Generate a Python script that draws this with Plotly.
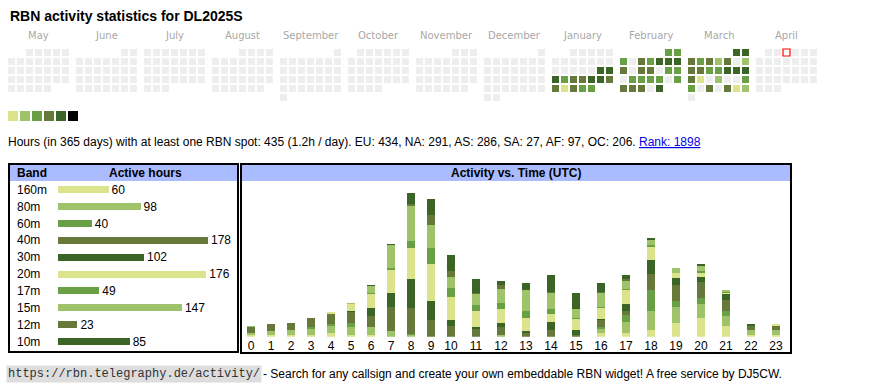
import datetime as dt
import plotly.graph_objects as go

# ---------------- data ----------------
callsign = "DL2025S"
month_names = ["May", "June", "July", "August", "September", "October",
               "November", "December", "January", "February", "March", "April"]
month_years = [2024, 2024, 2024, 2024, 2024, 2024, 2024, 2024, 2025, 2025, 2025, 2025]
month_numbers = [5, 6, 7, 8, 9, 10, 11, 12, 1, 2, 3, 4]
today = "2025-04-03"

active_days = [
    "2025-01-18", "2025-01-19", "2025-01-20", "2025-01-21", "2025-01-22", "2025-01-23",
    "2025-01-24", "2025-01-25", "2025-01-26", "2025-01-27", "2025-01-28", "2025-01-29",
    "2025-01-30", "2025-01-31",
    "2025-02-01", "2025-02-02", "2025-02-03", "2025-02-05", "2025-02-06", "2025-02-07",
    "2025-02-08", "2025-02-09", "2025-02-10", "2025-02-12", "2025-02-13", "2025-02-15",
    "2025-02-16", "2025-02-18", "2025-02-19", "2025-02-20", "2025-02-21", "2025-02-23",
    "2025-02-24", "2025-02-25", "2025-02-26", "2025-02-28",
    "2025-03-01", "2025-03-02", "2025-03-03", "2025-03-04", "2025-03-05", "2025-03-06",
    "2025-03-07", "2025-03-09", "2025-03-10", "2025-03-11", "2025-03-12", "2025-03-13",
    "2025-03-14", "2025-03-15", "2025-03-16", "2025-03-17", "2025-03-18", "2025-03-20",
    "2025-03-23", "2025-03-24", "2025-03-26", "2025-03-28", "2025-03-29", "2025-03-30",
]
active_levels = [
    5, 5, 5, 3, 4, 4,
    5, 5, 4, 4, 1, 4,
    3, 3,
    3, 3, 3, 4, 3, 5,
    5, 5, 4, 4, 4, 3,
    3, 3, 3, 3, 3, 3,
    4, 4, 4, 5,
    5, 5, 4, 3, 4, 2,
    4, 2, 4, 4, 3, 3,
    5, 5, 5, 4, 1, 2,
    3, 3, 4, 4, 1, 2,
]
level_colors = ["#eeeeee", "#dbe38b", "#9ec36b", "#6aa045", "#66793a", "#3a6526", "#000000"]

stats_hours = 435
stats_per_day = "1.2h / day"
continents = ["EU", "NA", "AS", "SA", "AF", "OC"]
continent_hours = [434, 291, 286, 27, 97, 206]
rank = 1898

bands = ["160m", "80m", "60m", "40m", "30m", "20m", "17m", "15m", "12m", "10m"]
band_hours = [60, 98, 40, 178, 102, 176, 49, 147, 23, 85]
band_colors = ["#dbe38b", "#9ec36b", "#6aa045", "#66793a", "#3a6526",
               "#dbe38b", "#6aa045", "#9ec36b", "#66793a", "#3a6526"]

hour_labels = [str(h) for h in range(24)]
h160 = [1, 1, 1, 1, 3, 1, 1, 0, 0, 0, 0, 0, 0, 0, 0, 0, 3, 3, 5, 10, 14, 8, 1, 1]
h80 = [2, 3, 4, 5, 5, 6, 6, 4, 1, 0, 0, 0, 1, 0, 0, 0, 3, 8, 14, 12, 10, 7, 4, 4]
h60 = [0, 0, 0, 1, 1, 3, 0, 0, 1, 0, 0, 0, 0, 0, 0, 0, 1, 5, 15, 4, 4, 4, 0, 0]
h40 = [4, 5, 5, 7, 8, 8, 8, 18, 19, 12, 8, 6, 6, 3, 5, 1, 5, 3, 12, 12, 12, 8, 3, 3]
h30 = [0, 0, 0, 0, 0, 1, 6, 10, 21, 14, 4, 1, 3, 1, 6, 4, 1, 5, 10, 5, 4, 4, 1, 0]
h20 = [0, 0, 0, 0, 1, 5, 10, 17, 23, 27, 17, 12, 10, 10, 6, 8, 8, 10, 10, 4, 3, 1, 0, 1]
h17 = [0, 0, 0, 0, 0, 0, 1, 1, 5, 12, 7, 4, 5, 5, 3, 1, 1, 1, 1, 0, 1, 1, 0, 0]
h15 = [1, 0, 0, 0, 0, 1, 5, 17, 26, 17, 8, 8, 10, 15, 12, 6, 10, 6, 4, 3, 4, 1, 0, 0]
h12 = [0, 0, 0, 0, 0, 0, 0, 0, 1, 7, 4, 1, 3, 0, 1, 0, 1, 1, 0, 0, 0, 0, 0, 0]
h10 = [0, 0, 0, 0, 0, 0, 1, 1, 8, 12, 12, 10, 3, 5, 12, 12, 6, 3, 1, 0, 1, 0, 0, 0]
hourly = [h160, h80, h60, h40, h30, h20, h17, h15, h12, h10]

# ---------------- layout constants ----------------
W, H = 870, 390
SANS = "Liberation Sans, Arial, sans-serif"
MONO = "Liberation Mono, Courier New, monospace"
CAL_X0, CAL_Y0, BLOCK, PITCH, CELL = 8, 49, 68, 9, 7


def py(px):
    return 1 - px / H


fig = go.Figure()

# ---------------- calendar ----------------
level_of = dict(zip(active_days, active_levels))
cx, cy, cc = [], [], []
tx = ty = None
for mi, (yr, mo) in enumerate(zip(month_years, month_numbers)):
    first = dt.date(yr, mo, 1)
    nxt = dt.date(yr + (mo == 12), mo % 12 + 1, 1)
    d = first
    while d < nxt:
        row = (d.day - 1 + first.weekday()) // 7
        x = CAL_X0 + mi * BLOCK + d.weekday() * PITCH + CELL / 2
        y = CAL_Y0 + row * PITCH + CELL / 2
        cx.append(x)
        cy.append(y)
        cc.append(level_colors[level_of.get(d.isoformat(), 0)])
        if d.isoformat() == today:
            tx, ty = x, y
        d += dt.timedelta(days=1)

fig.add_trace(go.Scatter(x=cx, y=cy, mode="markers", xaxis="x", yaxis="y",
                         marker=dict(symbol="square", size=CELL, color=cc, line=dict(width=0)),
                         hoverinfo="skip", showlegend=False))
fig.add_trace(go.Scatter(x=[tx], y=[ty], mode="markers", xaxis="x", yaxis="y",
                         marker=dict(symbol="square", size=7, color="#ffffff",
                                     line=dict(width=1.2, color="#ff0000")),
                         hoverinfo="skip", showlegend=False))

# legend squares
lvls = list(range(1, len(level_colors)))
fig.add_trace(go.Scatter(x=[8 + (l - 1) * 12 + 5 for l in lvls], y=[116] * len(lvls),
                         mode="markers", xaxis="x", yaxis="y",
                         marker=dict(symbol="square", size=10, color=level_colors[1:], line=dict(width=0)),
                         hoverinfo="skip", showlegend=False))

annotations = []
for mi, name in enumerate(month_names):
    annotations.append(dict(x=CAL_X0 + mi * BLOCK + 30.5, y=35, xref="x", yref="y", text=name,
                            showarrow=False, xanchor="center", yanchor="middle",
                            font=dict(family="DejaVu Sans", size=10, color="#a8a8a8")))

annotations.append(dict(x=8, y=16, xref="x", yref="y", text="<b>RBN activity statistics for %s</b>" % callsign,
                        showarrow=False, xanchor="left", yanchor="middle",
                        font=dict(family=SANS, size=14, color="#000")))

cont_txt = ", ".join("%s: %d" % (c, v) for c, v in zip(continents, continent_hours))
stats = ("Hours (in 365 days) with at least one RBN spot: %d (%s). %s. "
         "<span style='color:#0000ee;text-decoration:underline'>Rank: %d</span>"
         % (stats_hours, stats_per_day, cont_txt, rank))
annotations.append(dict(x=6, y=142, xref="x", yref="y", text=stats, showarrow=False,
                        xanchor="left", yanchor="middle", font=dict(family=SANS, size=12, color="#000")))

# ---------------- band table ----------------
fig.add_trace(go.Bar(x=band_hours, y=bands, orientation="h", xaxis="x2", yaxis="y2",
                     marker=dict(color=band_colors, line=dict(width=0)), width=0.41,
                     text=[str(v) for v in band_hours], textposition="outside",
                     constraintext="none", cliponaxis=False,
                     textfont=dict(family=SANS, size=12, color="#000"),
                     hoverinfo="skip", showlegend=False))
for b in bands:
    annotations.append(dict(x=15 / W, y=b, xref="paper", yref="y2", text=b, showarrow=False,
                            xanchor="left", yanchor="middle", font=dict(family=SANS, size=12, color="#000")))
annotations.append(dict(x=15, y=173, xref="x", yref="y", text="<b>Band</b>", showarrow=False,
                        xanchor="left", yanchor="middle", font=dict(family=SANS, size=12, color="#000")))
annotations.append(dict(x=145, y=173, xref="x", yref="y", text="<b>Active hours</b>", showarrow=False,
                        xanchor="center", yanchor="middle", font=dict(family=SANS, size=12, color="#000")))

# ---------------- activity vs time ----------------
hour_x = []
pos = 0
for i, lab in enumerate(hour_labels):
    if i > 0:
        pos += 20 if len(hour_labels[i - 1]) == 1 else 25
    hour_x.append(pos)

for b, vals, col in zip(bands, hourly, band_colors):
    fig.add_trace(go.Bar(x=hour_x, y=vals, xaxis="x3", yaxis="y3", width=8, name=b,
                         marker=dict(color=col, line=dict(width=0)),
                         hoverinfo="skip", showlegend=False))
annotations.append(dict(x=516, y=173, xref="x", yref="y", text="<b>Activity vs. Time (UTC)</b>",
                        showarrow=False, xanchor="center", yanchor="middle",
                        font=dict(family=SANS, size=12, color="#000")))

# ---------------- footer ----------------
annotations.append(dict(x=6, y=374, xref="x", yref="y", text="https://rbn.telegraphy.de/activity/",
                        showarrow=False, xanchor="left", yanchor="middle", bgcolor="#dddddd", borderpad=1,
                        font=dict(family=MONO, size=12, color="#333")))
annotations.append(dict(x=261, y=374, xref="x", yref="y",
                        text="- Search for any callsign and create your own embeddable RBN widget! A free service by DJ5CW.",
                        showarrow=False, xanchor="left", yanchor="middle",
                        font=dict(family=SANS, size=12, color="#000")))

# ---------------- boxes ----------------
shapes = [
    dict(type="rect", x0=9, y0=165, x1=237, y1=181, xref="x", yref="y",
         fillcolor="#aabbff", line=dict(width=0), layer="below"),
    dict(type="rect", x0=241, y0=165, x1=791, y1=181, xref="x", yref="y",
         fillcolor="#aabbff", line=dict(width=0), layer="below"),
    dict(type="rect", x0=9, y0=164, x1=238, y1=352, xref="x", yref="y",
         line=dict(width=2, color="#000"), fillcolor="rgba(0,0,0,0)"),
    dict(type="rect", x0=241, y0=164, x1=791, y1=353, xref="x", yref="y",
         line=dict(width=2, color="#000"), fillcolor="rgba(0,0,0,0)"),
]

hidden = dict(visible=False, showgrid=False, zeroline=False, fixedrange=True)
fig.update_layout(
    width=W, height=H, margin=dict(l=0, r=0, t=0, b=0),
    paper_bgcolor="white", plot_bgcolor="rgba(0,0,0,0)",
    barmode="stack", showlegend=False,
    xaxis=dict(domain=[0, 1], range=[0, W], **hidden),
    yaxis=dict(domain=[0, 1], range=[H, 0], **hidden),
    xaxis2=dict(domain=[58 / W, 238 / W], range=[0, 178 * 180 / 150], anchor="y2", **hidden),
    yaxis2=dict(domain=[py(350.5), py(180.8)], anchor="x2", visible=False, showgrid=False,
                zeroline=False, fixedrange=True, categoryorder="array", categoryarray=bands,
                autorange="reversed"),
    xaxis3=dict(domain=[242 / W, 790 / W], range=[-9, 539], anchor="y3", tickmode="array",
                tickvals=hour_x, ticktext=hour_labels, ticks="", showgrid=False, zeroline=False,
                showline=False, tickfont=dict(family=SANS, size=12, color="#000"), fixedrange=True),
    yaxis3=dict(domain=[py(336.7), py(185)], range=[0, 151.7 / 1.365], anchor="x3", **hidden),
    annotations=annotations, shapes=shapes,
    font=dict(family=SANS),
)

fig.write_html("out.html", config={"displayModeBar": False, "staticPlot": True},
               post_script="document.body.style.margin='0';document.body.style.overflow='hidden';")
